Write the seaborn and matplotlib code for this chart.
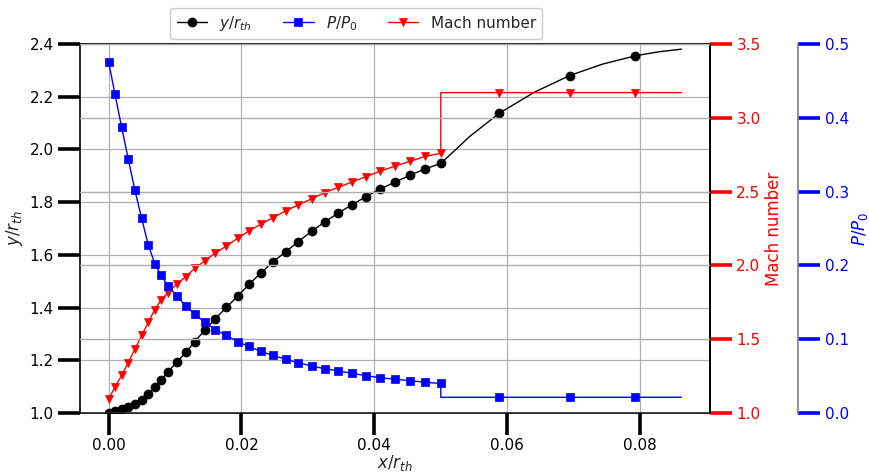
import matplotlib
matplotlib.use("Agg")
import matplotlib.pyplot as plt
from matplotlib.ticker import MultipleLocator
import numpy as np
import pandas as pd
import seaborn as sns

# ---- data ----
x_wall = [0.0, 0.00096, 0.00197, 0.00296, 0.00396, 0.00497, 0.00596, 0.00697,
          0.00787, 0.00896, 0.01023, 0.01162, 0.01297, 0.01447, 0.01602, 0.01773,
          0.01943, 0.02113, 0.02288, 0.02473, 0.02664, 0.02854, 0.03054, 0.03254,
          0.03459, 0.03665, 0.03875, 0.0409, 0.04315, 0.04536, 0.04766, 0.0500,
          0.0588, 0.0694, 0.0793]
y_wall = [1.000, 1.008, 1.014, 1.022, 1.033, 1.049, 1.072, 1.098,
          1.125, 1.157, 1.192, 1.230, 1.270, 1.315, 1.356, 1.401,
          1.443, 1.488, 1.530, 1.573, 1.611, 1.650, 1.689, 1.725,
          1.759, 1.790, 1.821, 1.850, 1.876, 1.902, 1.926, 1.947,
          2.137, 2.280, 2.355]
# extra points (no markers)
x_curve = [0.0525, 0.0543, 0.0641, 0.0743, 0.0828, 0.0862]
y_curve = [2.005, 2.048, 2.217, 2.323, 2.370, 2.380]

mach = [1.093, 1.176, 1.254, 1.342, 1.432, 1.525, 1.613, 1.701,
        1.764, 1.816, 1.872, 1.923, 1.980, 2.030, 2.082, 2.131,
        2.184, 2.233, 2.278, 2.323, 2.369, 2.409, 2.450, 2.493,
        2.529, 2.565, 2.601, 2.638, 2.673, 2.705, 2.738, 2.759]
mach_exit = 3.170

p_ratio = [0.476, 0.432, 0.387, 0.344, 0.302, 0.264, 0.228, 0.202,
           0.187, 0.172, 0.159, 0.145, 0.134, 0.123, 0.113, 0.105,
           0.0966, 0.0901, 0.0836, 0.0779, 0.0729, 0.0682, 0.0637, 0.0600,
           0.0569, 0.0538, 0.0505, 0.0478, 0.0457, 0.0438, 0.0416, 0.0400]
p_exit = 0.0213
x_end = 0.0862

y_ticks = [1.0, 1.2, 1.4, 1.6, 1.8, 2.0, 2.2, 2.4]
mach_ticks = [1.0, 1.5, 2.0, 2.5, 3.0, 3.5]
p_ticks = [0.0, 0.1, 0.2, 0.3, 0.4, 0.5]

# ---- build tables ----
wall = pd.DataFrame({"x": x_wall + x_curve, "y": y_wall + y_curve,
                     "mark": [True] * len(x_wall) + [False] * len(x_curve)})
wall = wall.sort_values("x", kind="stable").reset_index(drop=True)
wall_marks = list(np.flatnonzero(wall["mark"].values))

n_in = len(mach)
x_flow = x_wall[:n_in] + [x_wall[n_in - 1]] + x_wall[n_in:] + [x_end]
n_out = len(x_wall) - n_in
flow = pd.DataFrame({
    "x": x_flow,
    "M": mach + [mach_exit] * (n_out + 2),
    "P": p_ratio + [p_exit] * (n_out + 2),
})
flow_marks = list(range(n_in)) + list(range(n_in + 1, n_in + 1 + n_out))

# ---- style ----
sns.set_theme(style="ticks")
plt.rcParams["font.family"] = ["DejaVu Sans"]
plt.rcParams["axes.edgecolor"] = "black"
plt.rcParams["axes.linewidth"] = 1.2

fig = plt.figure(figsize=(8.69, 4.72), dpi=100)
ax = fig.add_axes([0.092, 0.125, 0.725, 0.782])
ax_m = ax.twinx()
ax_p = ax.twinx()
ax_p.spines["right"].set_position(("axes", 1.14))

grid_kw = dict(color="#b0b0b0", linewidth=0.9)
ax.grid(True, **grid_kw)
ax_m.grid(True, axis="y", **grid_kw)
ax_p.grid(True, axis="y", **grid_kw)
ax.set_axisbelow(True)

sns.lineplot(data=wall, x="x", y="y", ax=ax, color="black", linewidth=1,
             marker="o", markersize=6.5, markevery=wall_marks,
             markeredgecolor="black", markeredgewidth=0.5,
             estimator=None, sort=False, legend=False, label="$y/r_{th}$")
sns.lineplot(data=flow, x="x", y="P", ax=ax_p, color="blue", linewidth=1,
             marker="s", markersize=6, markevery=flow_marks,
             markeredgecolor="blue", markeredgewidth=0.5,
             estimator=None, sort=False, legend=False, label="$P/P_0$")
sns.lineplot(data=flow, x="x", y="M", ax=ax_m, color="red", linewidth=1,
             marker="v", markersize=6, markevery=flow_marks,
             markeredgecolor="red", markeredgewidth=0.5,
             estimator=None, sort=False, legend=False, label="Mach number")

ax.set_ylim(1.0, 2.4)
ax_m.set_ylim(1.0, 3.5)
ax_p.set_ylim(0.0, 0.5)
ax.set_yticks(y_ticks)
ax_m.set_yticks(mach_ticks)
ax_p.set_yticks(p_ticks)
ax.xaxis.set_major_locator(MultipleLocator(0.02))

tick_kw = dict(direction="out", length=16, width=2.6, labelsize=11, pad=3)
ax.tick_params(axis="both", colors="black", **tick_kw)
ax_m.tick_params(axis="y", colors="red", **tick_kw)
ax_p.tick_params(axis="y", colors="blue", **tick_kw)
ax.tick_params(axis="x", pad=2)

ax.set_xlabel("$x/r_{th}$", fontsize=12, labelpad=0)
ax.set_ylabel("$y/r_{th}$", fontsize=12, labelpad=3)
ax_m.set_ylabel("Mach number", fontsize=12, color="red", labelpad=3)
ax_p.set_ylabel("$P/P_0$", fontsize=12, color="blue", labelpad=1)

ax_p.spines["right"].set_color("gray")
for a in (ax_m, ax_p):
    for s in ("left", "top", "bottom"):
        a.spines[s].set_visible(False)
for s in ("left", "top", "bottom", "right"):
    ax.spines[s].set_color("black")
ax_m.spines["right"].set_color("black")

handles = ax.get_lines()[:1] + ax_p.get_lines()[:1] + ax_m.get_lines()[:1]
labels = [h.get_label() for h in handles]
fig.legend(handles, labels, loc="center", bbox_to_anchor=(0.41, 0.9506),
           ncol=3, fontsize=11, frameon=True, fancybox=True,
           edgecolor="#cccccc", framealpha=1)

fig.savefig("out.png", dpi=100)
